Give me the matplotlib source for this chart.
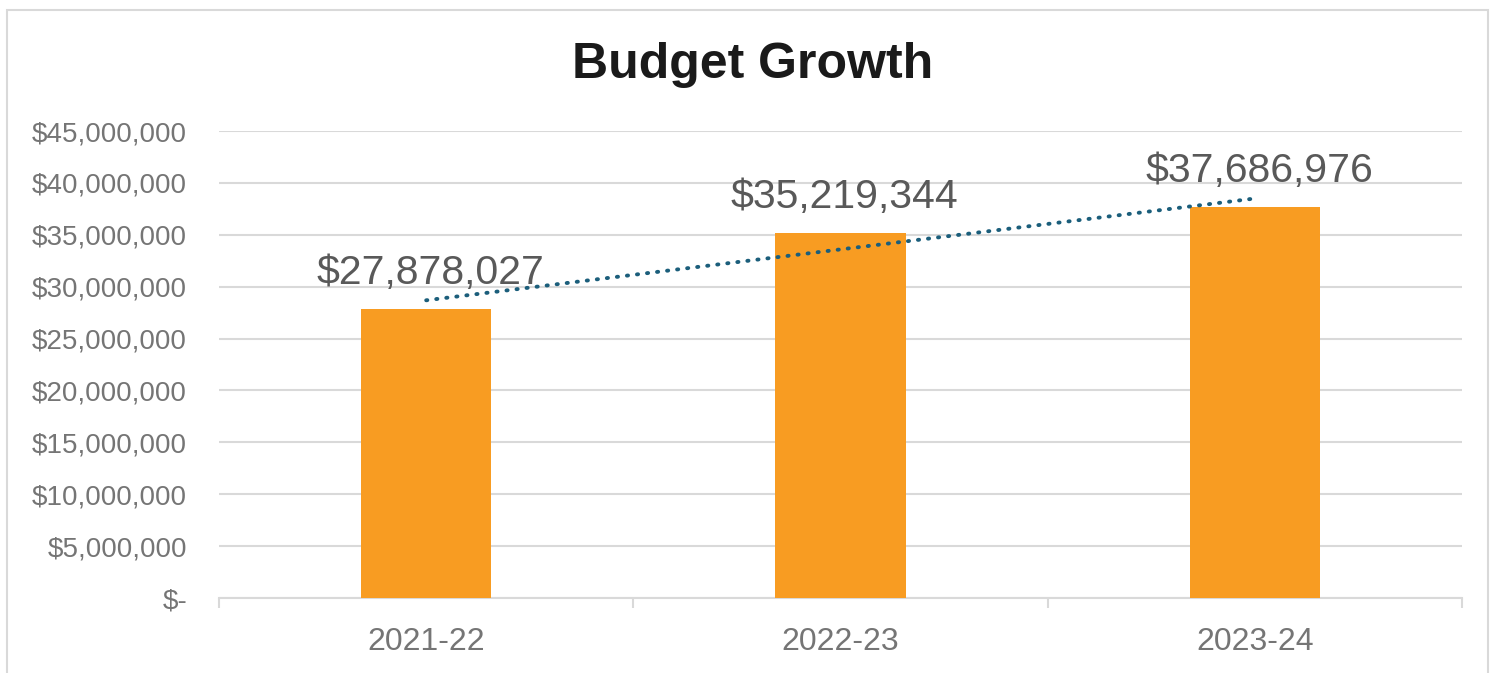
import matplotlib.pyplot as plt
import matplotlib.patches as patches
import matplotlib.ticker as ticker
import numpy as np

plt.rcParams['font.family'] = ['Liberation Sans', 'DejaVu Sans']

# budget per fiscal year
years = ["2021-22", "2022-23", "2023-24"]
budget = [27878027, 35219344, 37686976]

bar_color = "#F89C22"
trend_color = "#1B5E7B"
grid_color = "#D9D9D9"

fig = plt.figure(figsize=(14.96, 6.73), dpi=100)
ax = fig.add_axes([0.1464, 0.1114, 0.8309, 0.6939])

x = np.arange(len(years))
ax.bar(x, budget, width=0.314, color=bar_color, zorder=3)

# linear trendline through the three years
coef = np.polyfit(x, budget, 1)
ax.plot(x, np.polyval(coef, x), color=trend_color, linestyle=(0, (0.3, 2.3)),
        linewidth=2.8, dash_capstyle='round', zorder=4)

for xi, v in zip(x, budget):
    ax.annotate("${:,}".format(v), (xi, v), xytext=(3, 18), textcoords="offset points",
                ha="center", va="baseline", fontsize=29.5, color="#595959", zorder=5)

ax.set_xlim(-0.5, 2.5)
ax.set_ylim(0, 45000000)
ax.yaxis.set_major_locator(ticker.MultipleLocator(5000000))

def money(v, pos):
    if v == 0:
        return "$-"
    return "${:,.0f}".format(v)

ax.yaxis.set_major_formatter(ticker.FuncFormatter(money))
ax.set_xticks(x)
ax.set_xticklabels(years)
ax.set_xticks([-0.5, 0.5, 1.5, 2.5], minor=True)

ax.tick_params(axis="y", length=0, pad=23, labelsize=20, labelcolor="#757575")
ax.tick_params(axis="x", which="major", length=0, pad=21, labelsize=23, labelcolor="#757575")
ax.tick_params(axis="x", which="minor", length=7, width=1.5, color=grid_color, direction="out")

ax.grid(axis="y", color=grid_color, linewidth=1.5, zorder=0)
for s in ["left", "top", "right"]:
    ax.spines[s].set_visible(False)
ax.spines["bottom"].set_color(grid_color)
ax.spines["bottom"].set_linewidth(1.5)

fig.text(0.503, 0.903, "Budget Growth", ha="center", va="center",
         fontsize=36, fontweight="bold", color="#1A1A1A")

# light frame around the chart area
frame = patches.Rectangle((0.0047, -0.05), 0.9900, 1.035, transform=fig.transFigure,
                          fill=False, edgecolor=grid_color, linewidth=1.5)
fig.patches.append(frame)

fig.savefig("out.png", dpi=100)
